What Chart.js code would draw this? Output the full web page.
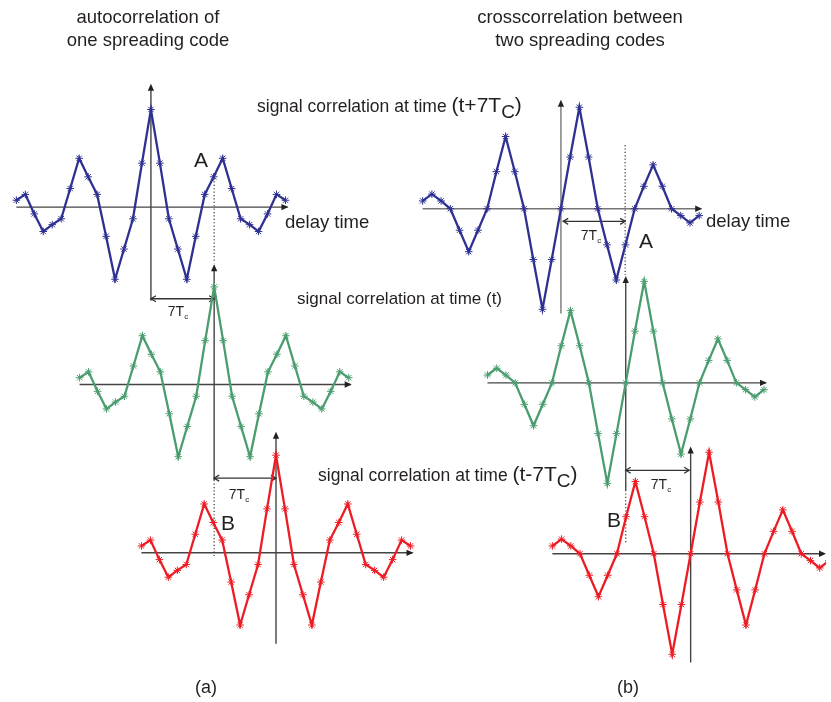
<!DOCTYPE html>
<html>
<head>
<meta charset="utf-8">
<script src="https://cdn.jsdelivr.net/npm/chart.js@4"></script>
<style>
  html, body { margin: 0; padding: 0; background: #fff; }
  #wrap { width: 831px; height: 702px; }
</style>
</head>
<body>
<div id="wrap"><canvas id="chart" width="831" height="702"></canvas></div>
<script>
// lag index (in half-chips) of every sample, 0 = zero delay
const lags = [-15, -14, -13, -12, -11, -10, -9, -8, -7, -6, -5, -4, -3, -2, -1, 0,
              1, 2, 3, 4, 5, 6, 7, 8, 9, 10, 11, 12, 13, 14, 15];
// autocorrelation of one spreading code (normalised, peak = 1)
const autoCorr = [0.07, 0.13, -0.07, -0.25, -0.18, -0.12, 0.19, 0.50, 0.31, 0.13, -0.30, -0.74, -0.43, -0.12, 0.45, 1.00,
                  0.45, -0.12, -0.43, -0.74, -0.30, 0.13, 0.31, 0.50, 0.19, -0.12, -0.18, -0.25, -0.07, 0.13, 0.07];
// crosscorrelation between two spreading codes
const crossCorr = [0.08, 0.15, 0.08, 0.00, -0.22, -0.44, -0.22, 0.00, 0.38, 0.74, 0.38, 0.00, -0.52, -1.03, -0.52, 0.00,
                   0.53, 1.04, 0.53, 0.00, -0.37, -0.73, -0.37, 0.00, 0.23, 0.45, 0.23, 0.00, -0.07, -0.145, -0.07];

const BLUE = '#2e3192', GREEN = '#4a9d6e', RED = '#ed1c24';
const AMP = 99;          // pixels for a correlation of 1
const FONT = '"Liberation Sans", Arial, sans-serif';

// where each curve sits on the page
const panels = [
    { vals: autoCorr,  color: BLUE,  ox: 147.7, oy: 205,   step: 9.08, axisTop: 80,  axisBot: 300 },
    { vals: autoCorr,  color: GREEN, ox: 211.7, oy: 385,   step: 9.08, axisTop: 263, axisBot: 482 },
    { vals: autoCorr,  color: RED,   ox: 274.3, oy: 555.7, step: 9.08, axisTop: 433, axisBot: 648 },
    { vals: crossCorr, color: BLUE,  ox: 562.7, oy: 206.7, step: 9.33, axisTop: 96,  axisBot: 313, axisColor: '#777' },
    { vals: crossCorr, color: GREEN, ox: 628.3, oy: 383.3, step: 9.33, axisTop: 275, axisBot: 492 },
    { vals: crossCorr, color: RED,   ox: 694,   oy: 556.7, step: 9.33, axisTop: 448, axisBot: 667 }
];

const datasets = panels.map(p => ({
    data: lags.map((k, i) => ({ x: p.ox + k * p.step, y: p.oy - p.vals[i] * AMP })),
    borderColor: p.color,
    backgroundColor: p.color,
    borderWidth: 2.3,
    showLine: true,
    tension: 0,
    pointStyle: 'star',
    pointRadius: 3.8,
    pointBorderWidth: 1,
    pointBorderColor: p.color
}));

function arrowHead(ctx, x, y, dir, size) {
    // dir: 'up' | 'right'
    ctx.beginPath();
    if (dir === 'up') {
        ctx.moveTo(x, y);
        ctx.lineTo(x - size * 0.45, y + size);
        ctx.lineTo(x + size * 0.45, y + size);
    } else {
        ctx.moveTo(x, y);
        ctx.lineTo(x - size, y - size * 0.45);
        ctx.lineTo(x - size, y + size * 0.45);
    }
    ctx.closePath();
    ctx.fill();
}

function openHead(ctx, x, y, dir) {
    const s = 5;
    ctx.beginPath();
    ctx.moveTo(x + dir * s, y - 3);
    ctx.lineTo(x, y);
    ctx.lineTo(x + dir * s, y + 3);
    ctx.stroke();
}

function spanArrow(ctx, x1, x2, y) {
    ctx.save();
    ctx.strokeStyle = '#333';
    ctx.lineWidth = 1.3;
    ctx.beginPath();
    ctx.moveTo(x1, y);
    ctx.lineTo(x2, y);
    ctx.stroke();
    openHead(ctx, x1, y, 1);
    openHead(ctx, x2, y, -1);
    ctx.restore();
}

function dotted(ctx, x, y1, y2) {
    ctx.save();
    ctx.strokeStyle = '#333';
    ctx.lineWidth = 1.2;
    ctx.setLineDash([1.2, 2.2]);
    ctx.beginPath();
    ctx.moveTo(x, y1);
    ctx.lineTo(x, y2);
    ctx.stroke();
    ctx.restore();
}

// text with a subscript part, e.g. 7T_c; main and tail may use their own size
function subText(ctx, parts, x, y, align) {
    let total = 0;
    parts.forEach(pt => { ctx.font = pt.size + 'px ' + FONT; pt.w = ctx.measureText(pt.t).width; total += pt.w; });
    let left = align === 'center' ? x - total / 2 : x;
    ctx.textAlign = 'left';
    parts.forEach(pt => {
        ctx.font = pt.size + 'px ' + FONT;
        ctx.fillText(pt.t, left, y + (pt.dy || 0));
        left += pt.w;
    });
}

const decor = {
    id: 'decor',
    beforeDatasetsDraw(chart) {
        const ctx = chart.ctx;
        const xs = chart.scales.x, ys = chart.scales.y;
        const X = v => xs.getPixelForValue(v), Y = v => ys.getPixelForValue(v);
        ctx.save();
        panels.forEach(p => {
            const first = p.ox + lags[0] * p.step;
            const last = p.ox + lags[lags.length - 1] * p.step;
            const col = p.axisColor || '#444';
            ctx.strokeStyle = col;
            ctx.fillStyle = '#222';
            ctx.lineWidth = 1.4;
            // delay axis
            ctx.beginPath();
            ctx.moveTo(X(first), Y(p.oy));
            ctx.lineTo(X(Math.min(last + 2, 829)), Y(p.oy));
            ctx.stroke();
            arrowHead(ctx, X(Math.min(last + 3, 831)), Y(p.oy), 'right', 7);
            // correlation axis
            ctx.beginPath();
            ctx.moveTo(X(p.ox), Y(p.axisBot));
            ctx.lineTo(X(p.ox), Y(p.axisTop + 4));
            ctx.stroke();
            arrowHead(ctx, X(p.ox), Y(p.axisTop), 'up', 7);
        });
        // dotted guide lines
        dotted(ctx, X(211.7), Y(172), Y(262));
        dotted(ctx, X(211.7), Y(482), Y(559));
        dotted(ctx, X(627.7), Y(142), Y(274));
        dotted(ctx, X(628.3), Y(492), Y(547));
        // 7Tc shift arrows
        spanArrow(ctx, X(147.7), X(211.7), Y(298));
        spanArrow(ctx, X(211.7), X(274.3), Y(480));
        spanArrow(ctx, X(565), X(627.7), Y(219.5));
        spanArrow(ctx, X(628.3), X(692.5), Y(472));
        ctx.restore();
    },
    afterDatasetsDraw(chart) {
        const ctx = chart.ctx;
        ctx.save();
        ctx.fillStyle = '#231f20';
        ctx.textBaseline = 'alphabetic';
        ctx.textAlign = 'center';
        ctx.font = '18.5px ' + FONT;
        ctx.fillText('autocorrelation of', 148, 23);
        ctx.fillText('one spreading code', 148, 46);
        ctx.fillText('crosscorrelation between', 580, 23);
        ctx.fillText('two spreading codes', 580, 46);

        ctx.font = '18px ' + FONT;
        ctx.fillText('(a)', 206, 693);
        ctx.fillText('(b)', 628, 693);

        ctx.textAlign = 'left';
        ctx.font = '18.5px ' + FONT;
        ctx.fillText('delay time', 285, 228);
        ctx.fillText('delay time', 706, 227);
        ctx.font = '17px ' + FONT;
        ctx.fillText('signal correlation at time (t)', 297, 304);
        subText(ctx, [
            { t: 'signal correlation at time ', size: 17.5 },
            { t: '(t+7T', size: 21 },
            { t: 'C', size: 19, dy: 6 },
            { t: ')', size: 21 }
        ], 257, 112, 'left');
        subText(ctx, [
            { t: 'signal correlation at time ', size: 17.5 },
            { t: '(t-7T', size: 21 },
            { t: 'C', size: 19, dy: 6 },
            { t: ')', size: 21 }
        ], 318, 481, 'left');

        // shift labels
        const shiftLabel = (x, y) => subText(ctx, [
            { t: '7T', size: 14 }, { t: 'c', size: 8, dy: 3 }
        ], x, y, 'center');
        shiftLabel(178, 316);
        shiftLabel(239, 499);
        shiftLabel(591, 240);
        shiftLabel(661, 489);

        // markers A / B
        ctx.textAlign = 'center';
        ctx.font = '21px ' + FONT;
        ctx.fillText('A', 201, 167);
        ctx.fillText('A', 646, 248);
        ctx.fillText('B', 228, 530);
        ctx.fillText('B', 614, 527);
        ctx.restore();
    }
};

new Chart(document.getElementById('chart'), {
    type: 'scatter',
    data: { datasets: datasets },
    options: {
        responsive: false,
        animation: false,
        layout: { padding: 0 },
        scales: {
            x: { type: 'linear', min: 0, max: 831, display: false },
            y: { type: 'linear', min: 0, max: 702, reverse: true, display: false }
        },
        plugins: {
            legend: { display: false },
            tooltip: { enabled: false }
        }
    },
    plugins: [decor]
});
</script>
</body>
</html>
